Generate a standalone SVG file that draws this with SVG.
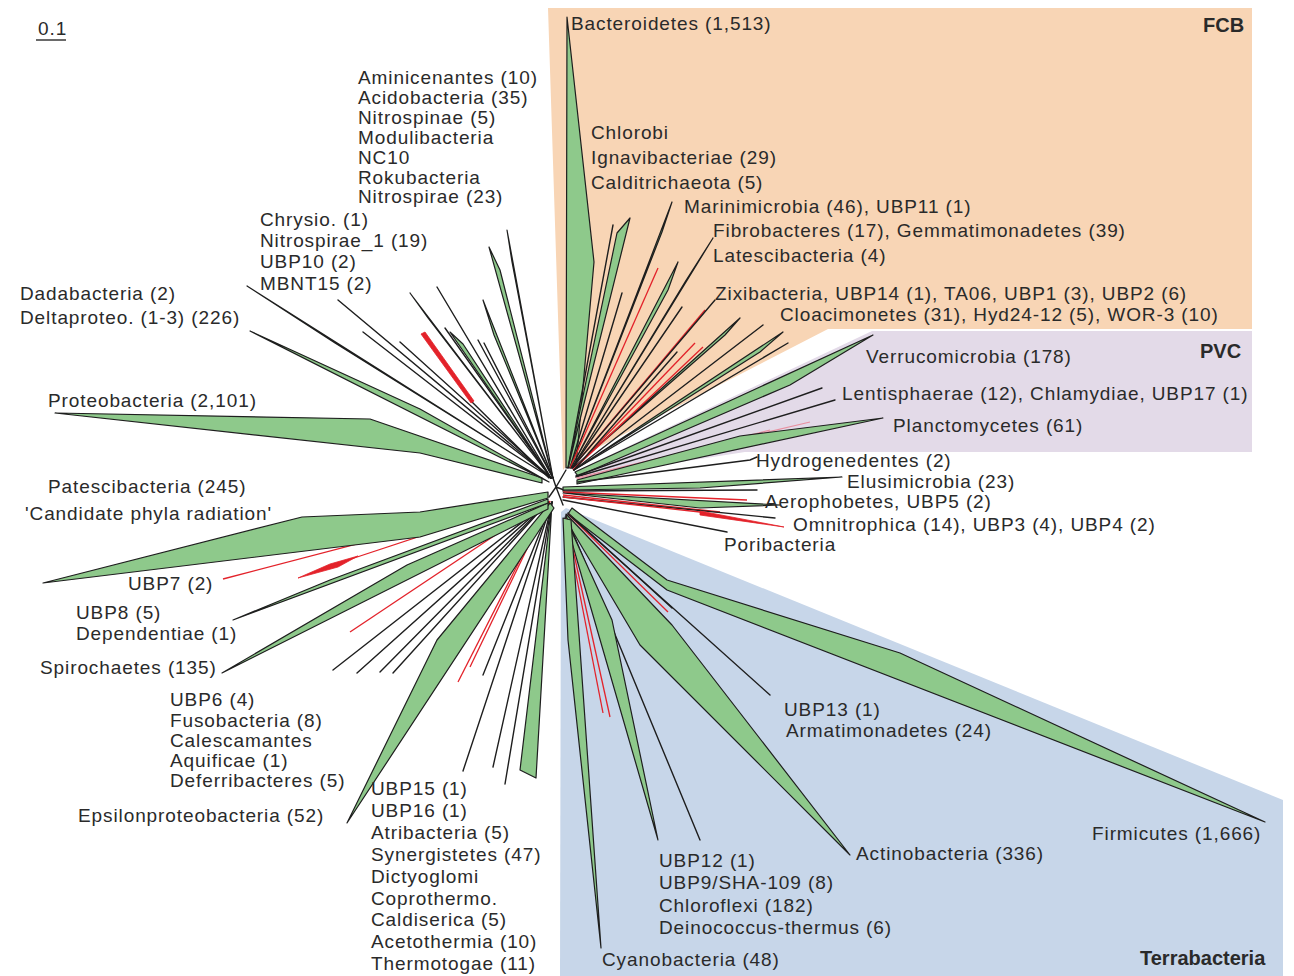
<svg xmlns="http://www.w3.org/2000/svg" width="1294" height="976" viewBox="0 0 1294 976">
<style>
text{font-family:"Liberation Sans",Arial,sans-serif;font-size:19px;letter-spacing:0.9px;fill:#2a2a2a}
.b{font-weight:bold;font-size:20px;letter-spacing:0}
.w{fill:#8ec98b;stroke:#1e1e1e;stroke-width:1.2;stroke-linejoin:round}
.k{stroke:#1e1e1e;stroke-width:1.4;fill:none;stroke-linecap:round}
.r{stroke:#e3222a;stroke-width:1.3;fill:none}
.rw{fill:#e3222a;stroke:#e3222a;stroke-width:0.8;stroke-linejoin:round}
.p{stroke:#e890a0;stroke-width:1.2;fill:none}
</style>
<rect width="1294" height="976" fill="#ffffff"/>
<g id="regions">
<polygon points="548,8 1252,8 1252,329 828,329 570,462 563,470" fill="#f8d5b5"/>
<polygon points="872,331 1252,331 1252,452 745,452 577,478 574,472" fill="#e3dae8"/>
<polygon points="566,508 1283,800 1283,976 560,976 561,512" fill="#c7d6e9"/>
</g>
<g id="scale">
<text x="38" y="35">0.1</text>
<line x1="36" y1="40" x2="66" y2="40" stroke="#2a2a2a" stroke-width="1.4"/>
</g>
<g id="connectors">
<!-- center -->
<path class="k" d="M553,478 L556,487 L566,470 M556,487 L563,505 M556,487 L549,497 M556,487 L564,490"/>
<!-- upper-left fan -->
<polygon class="w" points="542,478 370,419 55,413 420,453 542,483"/>
<polygon class="w" points="551,478 247,286 335,343"/>
<polygon class="w" points="549,482 420,409 250,331"/>
<line class="k" x1="338" y1="300" x2="551" y2="478"/>
<line class="k" x1="363" y1="332" x2="551" y2="478"/>
<line class="k" x1="400" y1="342" x2="551" y2="478"/>
<polygon class="w" points="551,478 410,293 428,318"/>
<line class="k" x1="437" y1="287" x2="551" y2="478"/>
<line class="k" x1="472" y1="402" x2="549" y2="478"/>
<polygon class="rw" points="421,334 425,332 474,401 471,403"/>
<line class="k" x1="445" y1="328" x2="551" y2="478"/>
<polygon class="w" points="551,478 450,332 463,344"/>
<line class="k" x1="478" y1="340" x2="553" y2="478"/>
<line class="k" x1="484" y1="343" x2="553" y2="478"/>
<polygon class="w" points="553,478 483,300 494,335"/>
<polygon class="w" points="553,478 489,247 500,270"/>
<polygon class="w" points="553,478 507,230 512,262"/>
<!-- FCB fan -->
<polygon class="w" points="566,468 567,17 594,262 576,466"/>
<line class="k" x1="613" y1="225" x2="568" y2="468"/>
<polygon class="w" points="568,468 617,233 630,218"/>
<polygon class="w" points="570,468 672,202 662,232"/>
<line class="k" x1="622" y1="293" x2="570" y2="468"/>
<line class="r" x1="658" y1="268" x2="570" y2="468"/>
<polygon class="w" points="571,468 678,262 668,290"/>
<polygon class="w" points="572,468 713,238 685,282"/>
<line class="r" x1="705" y1="310" x2="572" y2="468"/>
<line class="k" x1="682" y1="307" x2="572" y2="468"/>
<line class="k" x1="715" y1="300" x2="572" y2="468"/>
<polygon class="w" points="573,468 740,318 725,335"/>
<line class="r" x1="695" y1="343" x2="573" y2="470"/>
<line class="r" x1="703" y1="347" x2="573" y2="470"/>
<line class="k" x1="763" y1="325" x2="574" y2="470"/>
<polygon class="w" points="574,470 783,332 760,352"/>
<line class="k" x1="788" y1="343" x2="574" y2="470"/>
<line class="k" x1="677" y1="352" x2="574" y2="470"/>
<!-- PVC fan -->
<polygon class="w" points="575,472 873,335 790,385 578,476"/>
<line class="k" x1="822" y1="388" x2="576" y2="476"/>
<line class="k" x1="835" y1="400" x2="576" y2="477"/>
<line class="p" x1="810" y1="422" x2="576" y2="478"/>
<line class="p" x1="770" y1="430" x2="577" y2="479"/>
<line class="p" x1="740" y1="440" x2="577" y2="480"/>
<polygon class="w" points="577,480 740,436 883,418 577,484"/>
<path class="k" d="M578,482 L750,460 L757,457"/>
<!-- right fan -->
<polygon class="w" points="563,487 842,477 700,488 563,490"/>
<line class="k" x1="757" y1="490" x2="563" y2="491"/>
<line class="r" x1="747" y1="500" x2="563" y2="492"/>
<polygon class="w" points="563,493 780,505 700,508"/>
<line class="r" x1="720" y1="512" x2="563" y2="495"/>
<line class="k" x1="775" y1="518" x2="563" y2="497"/>
<line class="r" x1="700" y1="512" x2="563" y2="497"/>
<polygon class="rw" points="700,511 784,527 700,515"/>
<line class="k" x1="727" y1="532" x2="563" y2="500"/>
<!-- Terrabacteria fan -->
<polygon class="w" points="572,508 667,580 900,653 1265,822 667,590 568,514"/>
<line class="k" x1="672" y1="608" x2="568" y2="513"/>
<line class="r" x1="668" y1="612" x2="568" y2="514"/>
<line class="k" x1="770" y1="695" x2="568" y2="514"/>
<polygon class="w" points="566,514 672,625 850,855 640,645 566,520"/>
<line class="k" x1="700" y1="840" x2="566" y2="516"/>
<polygon class="w" points="565,517 612,620 658,840 566,522"/>
<line class="r" x1="603" y1="713" x2="565" y2="518"/>
<line class="r" x1="610" y1="717" x2="566" y2="518"/>
<polygon class="w" points="563,518 568,640 601,948 571,520"/>
<!-- lower-left fan -->
<line class="k" x1="463" y1="771" x2="552" y2="502"/>
<line class="k" x1="483" y1="675" x2="552" y2="502"/>
<line class="k" x1="493" y1="767" x2="552" y2="502"/>
<line class="k" x1="505" y1="784" x2="552" y2="502"/>
<polygon class="w" points="552,502 520,770 536,778"/>
<line class="r" x1="458" y1="682" x2="550" y2="501"/>
<line class="r" x1="470" y1="667" x2="550" y2="501"/>
<polygon class="w" points="550,503 437,640 347,823 554,508"/>
<line class="k" x1="333" y1="670" x2="548" y2="502"/>
<line class="k" x1="357" y1="673" x2="548" y2="502"/>
<line class="k" x1="380" y1="672" x2="548" y2="502"/>
<line class="k" x1="393" y1="673" x2="548" y2="502"/>
<line class="r" x1="350" y1="632" x2="548" y2="500"/>
<polygon class="w" points="548,503 407,565 222,673 548,509"/>
<polygon class="w" points="548,499 330,580 233,620 548,503"/>
<line class="r" x1="223" y1="579" x2="548" y2="494"/>
<line class="r" x1="345" y1="561" x2="548" y2="494"/>
<polygon class="rw" points="298,578 330,564 358,556 338,567"/>
<polygon class="w" points="548,492 420,512 302,517 43,583 420,537 548,498"/>
</g>
<g id="n-acido"><text><tspan x="358" y="84">Aminicenantes (10)</tspan><tspan x="358" y="104">Acidobacteria (35)</tspan><tspan x="358" y="124">Nitrospinae (5)</tspan><tspan x="358" y="144">Modulibacteria</tspan><tspan x="358" y="164">NC10</tspan><tspan x="358" y="184">Rokubacteria</tspan><tspan x="358" y="203">Nitrospirae (23)</tspan></text></g>
<g id="n-chrysio"><text><tspan x="260" y="226">Chrysio. (1)</tspan><tspan x="260" y="247">Nitrospirae_1 (19)</tspan><tspan x="260" y="268">UBP10 (2)</tspan><tspan x="260" y="290">MBNT15 (2)</tspan></text></g>
<g id="n-delta"><text><tspan x="20" y="300">Dadabacteria (2)</tspan><tspan x="20" y="324">Deltaproteo. (1-3) (226)</tspan></text></g>
<g id="n-proteo"><text x="48" y="407">Proteobacteria (2,101)</text></g>
<g id="n-pates"><text><tspan x="48" y="493">Patescibacteria (245)</tspan><tspan x="25" y="520">'Candidate phyla radiation'</tspan></text></g>
<g id="n-ubp7"><text x="128" y="590">UBP7 (2)</text></g>
<g id="n-depend"><text><tspan x="76" y="619">UBP8 (5)</tspan><tspan x="76" y="640">Dependentiae (1)</tspan></text></g>
<g id="n-spiro"><text x="40" y="674">Spirochaetes (135)</text></g>
<g id="n-fuso"><text><tspan x="170" y="706">UBP6 (4)</tspan><tspan x="170" y="727">Fusobacteria (8)</tspan><tspan x="170" y="747">Calescamantes</tspan><tspan x="170" y="767">Aquificae (1)</tspan><tspan x="170" y="787">Deferribacteres (5)</tspan></text></g>
<g id="n-epsilon"><text x="78" y="822">Epsilonproteobacteria (52)</text></g>
<g id="n-thermo"><text><tspan x="371" y="795">UBP15 (1)</tspan><tspan x="371" y="817">UBP16 (1)</tspan><tspan x="371" y="839">Atribacteria (5)</tspan><tspan x="371" y="861">Synergistetes (47)</tspan><tspan x="371" y="883">Dictyoglomi</tspan><tspan x="371" y="905">Coprothermo.</tspan><tspan x="371" y="926">Caldiserica (5)</tspan><tspan x="371" y="948">Acetothermia (10)</tspan><tspan x="371" y="970">Thermotogae (11)</tspan></text></g>
<g id="n-bactero"><text x="571" y="30">Bacteroidetes (1,513)</text></g>
<g id="n-chlorobi"><text><tspan x="591" y="139">Chlorobi</tspan><tspan x="591" y="164">Ignavibacteriae (29)</tspan><tspan x="591" y="189">Calditrichaeota (5)</tspan></text></g>
<g id="n-marini"><text x="684" y="213">Marinimicrobia (46), UBP11 (1)</text></g>
<g id="n-fibro"><text><tspan x="713" y="237">Fibrobacteres (17), Gemmatimonadetes (39)</tspan><tspan x="713" y="262">Latescibacteria (4)</tspan></text></g>
<g id="n-zixi"><text x="715" y="300">Zixibacteria, UBP14 (1), TA06, UBP1 (3), UBP2 (6)</text></g>
<g id="n-cloaci"><text x="780" y="321">Cloacimonetes (31), Hyd24-12 (5), WOR-3 (10)</text></g>
<g id="n-fcb"><text class="b" x="1203" y="32">FCB</text></g>
<g id="n-verru"><text x="866" y="363">Verrucomicrobia (178)</text></g>
<g id="n-pvc"><text class="b" x="1200" y="358">PVC</text></g>
<g id="n-lenti"><text x="842" y="400">Lentisphaerae (12), Chlamydiae, UBP17 (1)</text></g>
<g id="n-plancto"><text x="893" y="432">Planctomycetes (61)</text></g>
<g id="n-hydro"><text x="756" y="467">Hydrogenedentes (2)</text></g>
<g id="n-elusi"><text x="847" y="488">Elusimicrobia (23)</text></g>
<g id="n-aero"><text x="765" y="508">Aerophobetes, UBP5 (2)</text></g>
<g id="n-omni"><text x="793" y="531">Omnitrophica (14), UBP3 (4), UBP4 (2)</text></g>
<g id="n-pori"><text x="724" y="551">Poribacteria</text></g>
<g id="n-armati"><text><tspan x="784" y="716">UBP13 (1)</tspan><tspan x="786" y="737">Armatimonadetes (24)</tspan></text></g>
<g id="n-firmi"><text x="1092" y="840">Firmicutes (1,666)</text></g>
<g id="n-actino"><text x="856" y="860">Actinobacteria (336)</text></g>
<g id="n-chloro"><text><tspan x="659" y="867">UBP12 (1)</tspan><tspan x="659" y="889">UBP9/SHA-109 (8)</tspan><tspan x="659" y="912">Chloroflexi (182)</tspan><tspan x="659" y="934">Deinococcus-thermus (6)</tspan></text></g>
<g id="n-cyano"><text x="602" y="966">Cyanobacteria (48)</text></g>
<g id="n-terra"><text class="b" x="1140" y="965">Terrabacteria</text></g>
</svg>
